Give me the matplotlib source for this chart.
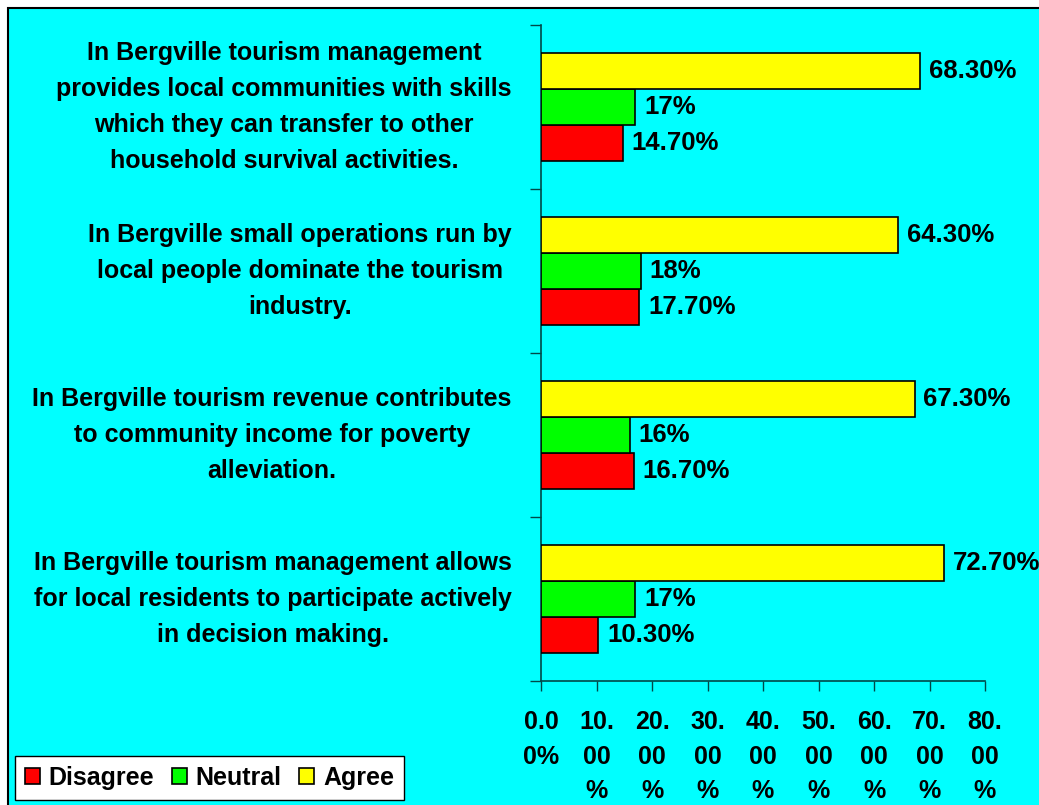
import matplotlib.pyplot as plt
from matplotlib.patches import Rectangle
import numpy as np

plt.rcParams['font.family'] = ['Liberation Sans', 'DejaVu Sans']
plt.rcParams['font.weight'] = 'bold'

# statements, listed top to bottom as in the chart
statements = [
    "In Bergville tourism management\nprovides local communities with skills\nwhich they can transfer to other\nhousehold survival activities.",
    "In Bergville small operations run by\nlocal people dominate the tourism\nindustry.",
    "In Bergville tourism revenue contributes\nto community income for poverty\nalleviation.",
    "In Bergville tourism management allows\nfor local residents to participate actively\nin decision making.",
]
disagree = [14.7, 17.7, 16.7, 10.3]
neutral = [17, 18, 16, 17]
agree = [68.3, 64.3, 67.3, 72.7]
series_names = ["Disagree", "Neutral", "Agree"]
series_colors = ["#FF0000", "#00FF00", "#FFFF00"]
x_ticks = [0, 10, 20, 30, 40, 50, 60, 70, 80]
x_ticklabels = ["0.0\n0%", "10.\n00\n%", "20.\n00\n%", "30.\n00\n%", "40.\n00\n%",
                "50.\n00\n%", "60.\n00\n%", "70.\n00\n%", "80.\n00\n%"]

CYAN = "#00FFFF"
AXC = "#004848"


def fmt(v):
    return f"{v:.0f}%" if float(v).is_integer() else f"{v:.2f}%"


fig = plt.figure(figsize=(10.39, 8.05), dpi=100)
fig.patch.set_facecolor("white")
fig.patches.append(Rectangle((8 / 1039, -0.1), 1.2, 1.1 - 8 / 805,
                             transform=fig.transFigure, facecolor=CYAN,
                             edgecolor="black", linewidth=1.5, zorder=-5))

ax = fig.add_axes([541 / 1039, 1 - 681 / 805, (985 - 541) / 1039, (681 - 25) / 805])
ax.set_facecolor("none")
ax.set_zorder(2)

# bottom-to-top order for plotting
cats = statements[::-1]
data = [disagree[::-1], neutral[::-1], agree[::-1]]
y = np.arange(len(cats))
h = 0.22
offsets = [-h, 0, h]

for vals, name, col, off in zip(data, series_names, series_colors, offsets):
    bars = ax.barh(y + off, vals, height=h, color=col, edgecolor="black",
                   linewidth=1.2, label=name, zorder=3)
    for b, v in zip(bars, vals):
        ax.text(v + 1.6, b.get_y() + b.get_height() / 2, fmt(v),
                va="center", ha="left", fontsize=18.5, fontweight="bold",
                zorder=4, clip_on=False)

ax.set_xlim(0, 80)
ax.set_ylim(-0.5, len(cats) - 0.5)

ax.set_xticks(x_ticks)
ax.set_xticklabels(x_ticklabels, fontsize=18, fontweight="bold",
                   va="top", linespacing=1.56)
ax.tick_params(axis="x", direction="out", length=7, width=1, color=AXC, pad=14)

ax.set_yticks(y)
ax.set_yticklabels(cats, fontsize=18, fontweight="bold", va="center",
                   multialignment="center", linespacing=1.62)
ax.tick_params(axis="y", which="major", length=0, pad=21)
ax.set_yticks(np.arange(-0.5, len(cats), 1.0), minor=True)
ax.tick_params(axis="y", which="minor", direction="out", length=8, width=1, color=AXC)

for side in ["top", "right"]:
    ax.spines[side].set_visible(False)
for side in ["left", "bottom"]:
    ax.spines[side].set_color(AXC)
    ax.spines[side].set_linewidth(1.2)

leg = fig.legend(loc="lower left", bbox_to_anchor=(15 / 1039, 5 / 805), ncol=3,
                 frameon=True, fancybox=False, borderaxespad=0,
                 prop={"weight": "bold", "size": 18},
                 handlelength=0.6, handleheight=0.6, handletextpad=0.35,
                 columnspacing=0.7, borderpad=0.4, edgecolor="black",
                 facecolor="white", framealpha=1)
leg.get_frame().set_linewidth(1.0)
leg.set_zorder(5)

fig.savefig("out.png", dpi=100, facecolor=fig.get_facecolor())
